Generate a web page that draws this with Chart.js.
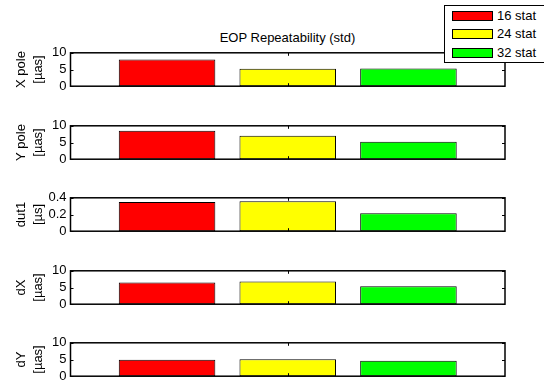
<!DOCTYPE html>
<html>
<head>
<meta charset="utf-8">
<script src="https://cdn.jsdelivr.net/npm/chart.js@4"></script>
<style>
  html, body { margin: 0; padding: 0; background: #fff; }
  #fig { position: relative; width: 544px; height: 383px; overflow: hidden; font-family: "Liberation Sans", Arial, sans-serif; }
  .panel { position: absolute; left: 0; width: 544px; }
  #title { position: absolute; top: 30px; left: 70px; width: 435px; text-align: center; font-size: 13px; line-height: 16px; color: #000; }
  #legend { position: absolute; left: 444px; top: 5px; width: 104px; height: 58px; border: 1px solid #000; background: #fff; box-sizing: border-box; font-size: 13px; }
  .item { position: absolute; left: 7px; height: 16px; }
  .sw { position: absolute; left: 0; top: 3px; width: 41px; height: 10px; border: 1px solid #000; box-sizing: border-box; }
  .lbl { position: absolute; left: 45px; top: 0; line-height: 16px; white-space: nowrap; }
</style>
</head>
<body>
<div id="fig">
  <div id="title"></div>
  <div id="legend"></div>
</div>
<script>
// Station-network configurations and their bar colours
const configs = ['16 stat', '24 stat', '32 stat'];
const barColors = ['#ff0000', '#ffff00', '#00ff00'];
const positions = [1, 2, 3];

// Repeatability (standard deviation) per EOP component
const xPole = [8.0, 5.2, 5.3];
const yPole = [8.5, 7.0, 5.2];
const dut1 = [0.35, 0.36, 0.215];
const dX = [6.5, 6.8, 5.4];
const dY = [4.9, 5.1, 4.6];

const titleText = 'EOP Repeatability (std)';

const panels = [
  { label: ['X pole', '[µas]'], values: xPole, max: 10, step: 5, top: 51 },
  { label: ['Y pole', '[µas]'], values: yPole, max: 10, step: 5, top: 124 },
  { label: ['dut1', '[µs]'], values: dut1, max: 0.4, step: 0.2, top: 196 },
  { label: ['dX', '[µas]'], values: dX, max: 10, step: 5, top: 269 },
  { label: ['dY', '[µas]'], values: dY, max: 10, step: 5, top: 341 }
];

const FAMILY = '"Liberation Sans", Arial, sans-serif';
const TICK_FONT = { family: FAMILY, size: 13 };
const LABEL_FONT = { family: FAMILY, size: 13, lineHeight: 1.3 };
const PAD_TOP = 10, PAD_BOTTOM = 10, AREA_H = 37;
const AXIS_LEFT = 70.5, AXIS_RIGHT = 505;

document.getElementById('title').textContent = titleText;

// Legend entries
const legend = document.getElementById('legend');
configs.forEach((name, i) => {
  const it = document.createElement('div');
  it.className = 'item';
  it.style.top = (2 + i * 18.3) + 'px';
  const sw = document.createElement('div');
  sw.className = 'sw';
  sw.style.background = barColors[i];
  const lb = document.createElement('div');
  lb.className = 'lbl';
  lb.textContent = name;
  it.appendChild(sw);
  it.appendChild(lb);
  legend.appendChild(it);
});

// Box around the axes plus inward tick marks on all four sides
const axesBox = {
  id: 'axesBox',
  afterDatasetsDraw(chart) {
    const { ctx, chartArea: a, scales } = chart;
    ctx.save();
    ctx.strokeStyle = '#000';
    ctx.lineWidth = 1;
    const tl = 3;
    scales.y.ticks.forEach(t => {
      const py = Math.round(scales.y.getPixelForValue(t.value)) + 0.5;
      ctx.beginPath();
      ctx.moveTo(a.left, py); ctx.lineTo(a.left + tl, py);
      ctx.moveTo(a.right, py); ctx.lineTo(a.right - tl, py);
      ctx.stroke();
    });
    const px = Math.round(scales.x.getPixelForValue(2)) + 0.5;
    ctx.beginPath();
    ctx.moveTo(px, a.top); ctx.lineTo(px, a.top + tl);
    ctx.moveTo(px, a.bottom); ctx.lineTo(px, a.bottom - tl);
    ctx.stroke();
    ctx.lineWidth = 1.5;
    ctx.strokeRect(a.left, a.top, a.right - a.left, a.bottom - a.top);
    ctx.restore();
  }
};

const fig = document.getElementById('fig');
panels.forEach(p => {
  const holder = document.createElement('div');
  holder.className = 'panel';
  holder.style.top = (p.top - PAD_TOP) + 'px';
  holder.style.height = (AREA_H + PAD_TOP + PAD_BOTTOM) + 'px';
  const canvas = document.createElement('canvas');
  holder.appendChild(canvas);
  fig.insertBefore(holder, document.getElementById('legend'));

  new Chart(canvas, {
    type: 'bar',
    data: {
      datasets: [{
        data: positions.map((x, i) => ({ x: x, y: p.values[i] })),
        backgroundColor: barColors,
        borderColor: '#000',
        borderWidth: 1,
        borderSkipped: false,
        barPercentage: 0.8,
        categoryPercentage: 1
      }]
    },
    options: {
      responsive: true,
      maintainAspectRatio: false,
      animation: false,
      events: [],
      layout: { padding: { left: 0, right: 544 - AXIS_RIGHT, top: PAD_TOP, bottom: PAD_BOTTOM } },
      plugins: { legend: { display: false }, tooltip: { enabled: false } },
      scales: {
        x: {
          type: 'linear',
          min: 0.2, max: 3.8,
          offset: false,
          display: false,
          grid: { offset: false },
          ticks: { stepSize: 1, includeBounds: false }
        },
        y: {
          min: 0, max: p.max,
          border: { display: false },
          grid: { display: false, drawTicks: false },
          ticks: {
            stepSize: p.step,
            autoSkip: false,
            color: '#000',
            font: TICK_FONT,
            padding: 4,
            callback: v => String(Math.round(v * 10) / 10)
          },
          title: {
            display: true,
            text: p.label,
            color: '#000',
            font: LABEL_FONT,
            padding: { top: 13, bottom: 0 }
          },
          afterFit(scale) { scale.width = AXIS_LEFT; }
        }
      }
    },
    plugins: [axesBox]
  });
});
</script>
</body>
</html>
